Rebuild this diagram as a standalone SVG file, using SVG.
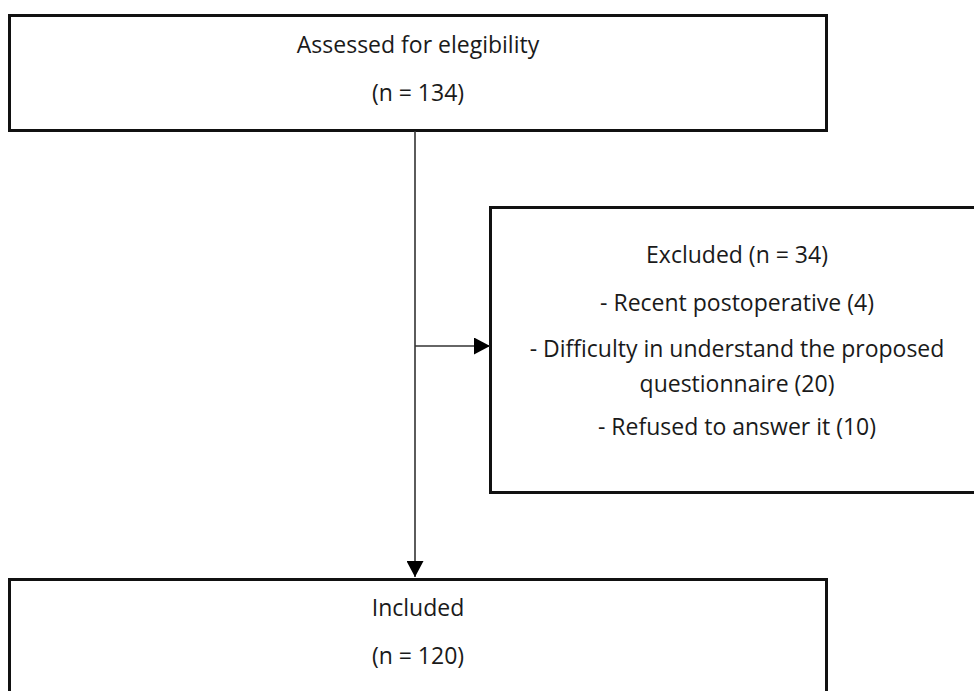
<svg xmlns="http://www.w3.org/2000/svg" width="974" height="691" viewBox="0 0 974 691">
<defs>
<style>
.box{fill:#fff;stroke:#111;stroke-width:3}
.t{font-family:"Open Sans","Liberation Sans",sans-serif;font-size:23px;fill:#1a1a1a;text-anchor:middle}
.c{stroke:#333;stroke-width:1.6;fill:none}
</style>
<marker id="ah" markerWidth="16" markerHeight="17" refX="16" refY="8.5" orient="auto" markerUnits="userSpaceOnUse">
<path d="M0,0 L16,8.5 L0,17 Z" fill="#000"/>
</marker>
</defs>
<rect width="974" height="691" fill="#fff"/>
<g id="assessed">
<rect class="box" x="9.5" y="15.5" width="817" height="115"/>
<text class="t" x="418" y="53">Assessed for elegibility</text>
<text class="t" x="418" y="101">(n = 134)</text>
</g>
<g id="excluded">
<rect class="box" x="490.5" y="207.5" width="500" height="285"/>
<text class="t" x="737" y="263">Excluded (n = 34)</text>
<text class="t" x="737" y="311">- Recent postoperative (4)</text>
<text class="t" x="737" y="357">- Difficulty in understand the proposed</text>
<text class="t" x="737" y="392">questionnaire (20)</text>
<text class="t" x="737" y="435">- Refused to answer it (10)</text>
</g>
<g id="included">
<rect class="box" x="9.5" y="579.5" width="817" height="130"/>
<text class="t" x="418" y="616">Included</text>
<text class="t" x="418" y="664">(n = 120)</text>
</g>
<g id="connectors">
<line class="c" x1="415" y1="131" x2="415" y2="577" marker-end="url(#ah)"/>
<line class="c" x1="415" y1="346" x2="490" y2="346" marker-end="url(#ah)"/>
</g>
</svg>
